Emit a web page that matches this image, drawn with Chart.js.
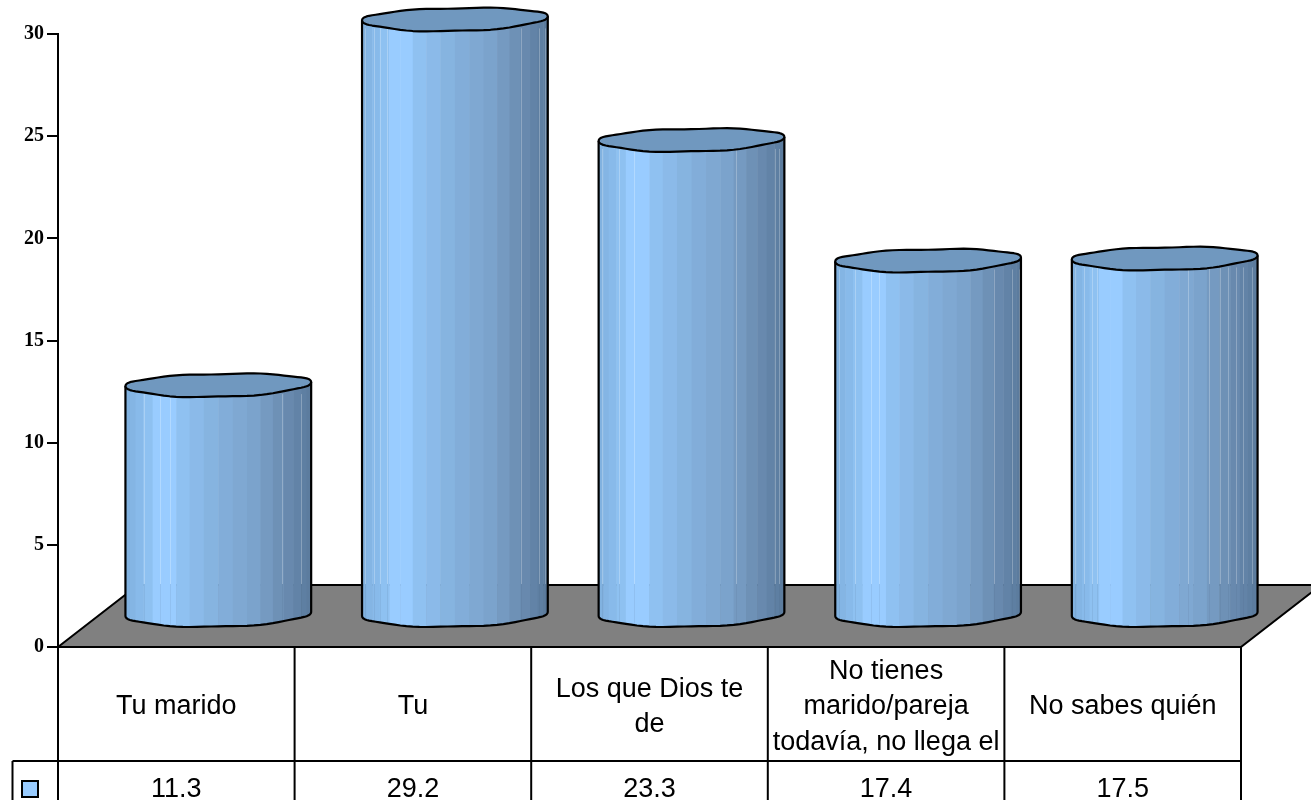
<!DOCTYPE html>
<html>
<head>
<meta charset="utf-8">
<title>Grafica</title>
<script src="https://cdn.jsdelivr.net/npm/chart.js@4"></script>
<style>
  html, body { margin: 0; padding: 0; background: #fff; overflow: hidden; }
  canvas { display: block; }
</style>
</head>
<body>
<canvas id="grafica" width="1311" height="800"></canvas>
<script>
const categorias = [
    ["Tu marido"],
    ["Tu"],
    ["Los que Dios te", "de"],
    ["No tienes", "marido/pareja", "todavía, no llega el"],
    ["No sabes quién"]
];
const valores = [11.3, 29.2, 23.3, 17.4, 17.5];
const yMax = 30;
const yPaso = 5;

// Colores de las franjas del cilindro, de izquierda a derecha
const franjas = [
    [0, [127, 176, 221]], [0.13, [143, 194, 243]], [0.15, [153, 204, 255]],
    [0.24, [153, 204, 255]], [0.3, [144, 194, 242]], [0.5, [132, 176, 220]],
    [0.7, [123, 162, 203]], [0.85, [107, 141, 178]], [1, [90, 122, 156]]
];
// Rayitas claras de cada cilindro, en pixeles desde su borde izquierdo
const brillos = [
    [19, 35, 45, 157, 176],
    [3, 12, 18, 25, 159, 177, 183],
    [3, 20, 35, 137, 176, 180],
    [4, 20, 36, 44, 159, 177, 184],
    [3, 12, 20, 25, 116, 137, 148, 156, 164, 171, 180]
];
const colorBarra = "#99CCFF";
const colorTapa = "#7098BF";
const colorPiso = "#808080";

// Desplazamiento de la perspectiva 3D
const pisoDx = 80, pisoDy = 62;
const cilDx = 42, cilDy = 32;
const radioY = 11.5, sesgo = 2, panza = 1.3, caras = 20;
const filaCategorias = 114;
const grosor = 2.2;

function colorEn(f) {
    for (let i = 1; i < franjas.length; i++) {
        if (f <= franjas[i][0]) {
            const a = franjas[i - 1], b = franjas[i];
            const t = (f - a[0]) / (b[0] - a[0]);
            const c = a[1].map((v, k) => Math.round(v + (b[1][k] - v) * t));
            return `rgb(${c[0]},${c[1]},${c[2]})`;
        }
    }
    return "rgb(90,122,156)";
}

function puntoAro(cx, cy, rx, t) {
    // el aro original es un poligono algo irregular
    const s = Math.sin(t);
    return [
        cx + rx * Math.cos(t),
        cy + radioY * s - sesgo * Math.cos(t) + panza * s * s + 0.5 * Math.sin(7 * t)
    ];
}

function dibujarCilindro(ctx, el, indice, yPiso) {
    const rx = el.width / 2;
    const cx = el.x + cilDx;
    const arriba = el.y - cilDy;
    const abajo = el.base - cilDy;

    // cuerpo por franjas
    for (let k = 0; k < caras; k++) {
        const t0 = Math.PI - Math.PI * k / caras;
        const t1 = Math.PI - Math.PI * (k + 1) / caras;
        const a = puntoAro(cx, arriba, rx, t0), b = puntoAro(cx, arriba, rx, t1);
        const c = puntoAro(cx, abajo, rx, t1), d = puntoAro(cx, abajo, rx, t0);
        ctx.fillStyle = colorEn(((a[0] + b[0]) / 2 - (cx - rx)) / (2 * rx));
        ctx.beginPath();
        ctx.moveTo(a[0], a[1]);
        ctx.lineTo(b[0] + 0.5, b[1]);
        ctx.lineTo(c[0] + 0.5, c[1]);
        ctx.lineTo(d[0], d[1]);
        ctx.closePath();
        ctx.fill();
    }

    // rayitas claras, mas apagadas por debajo del fondo del piso
    ctx.lineWidth = 1;
    brillos[indice].forEach(dx => {
        const x = Math.round(cx - rx + dx) + 0.5;
        const t = Math.acos((x - cx) / rx);
        ctx.strokeStyle = "rgba(255,255,255,0.25)";
        ctx.beginPath();
        ctx.moveTo(x, arriba + 10);
        ctx.lineTo(x, yPiso - 1);
        ctx.stroke();
        ctx.strokeStyle = "rgba(70,90,120,0.1)";
        ctx.beginPath();
        ctx.moveTo(x, yPiso - 1);
        ctx.lineTo(x, puntoAro(cx, abajo, rx, t)[1]);
        ctx.stroke();
    });

    // contorno del cuerpo
    ctx.strokeStyle = "#000";
    ctx.lineWidth = grosor;
    ctx.lineJoin = "round";
    ctx.beginPath();
    const inicio = puntoAro(cx, arriba, rx, Math.PI);
    ctx.moveTo(inicio[0], inicio[1]);
    for (let k = 0; k <= caras * 2; k++) {
        const p = puntoAro(cx, abajo, rx, Math.PI - Math.PI * k / (caras * 2));
        ctx.lineTo(p[0], p[1]);
    }
    const fin = puntoAro(cx, arriba, rx, 0);
    ctx.lineTo(fin[0], fin[1]);
    ctx.stroke();

    // tapa
    ctx.fillStyle = colorTapa;
    ctx.beginPath();
    for (let k = 0; k < caras * 4; k++) {
        const p = puntoAro(cx, arriba, rx, Math.PI * 2 * k / (caras * 4));
        if (k === 0) ctx.moveTo(p[0], p[1]); else ctx.lineTo(p[0], p[1]);
    }
    ctx.closePath();
    ctx.fill();
    ctx.stroke();
}

const pluginCilindros = {
    id: "cilindros",
    beforeDatasetsDraw(chart) {
        const { ctx, chartArea } = chart;
        const y0 = chart.scales.y.getPixelForValue(0);
        ctx.save();
        ctx.fillStyle = colorPiso;
        ctx.strokeStyle = "#000";
        ctx.lineWidth = 2;
        ctx.beginPath();
        ctx.moveTo(chartArea.left, y0);
        ctx.lineTo(chartArea.left + pisoDx, y0 - pisoDy);
        ctx.lineTo(chartArea.right + pisoDx, y0 - pisoDy);
        ctx.lineTo(chartArea.right, y0);
        ctx.closePath();
        ctx.fill();
        ctx.stroke();
        ctx.restore();
    },
    beforeDatasetDraw(chart, args) {
        const ctx = chart.ctx;
        const yPiso = chart.scales.y.getPixelForValue(0) - pisoDy;
        ctx.save();
        args.meta.data.forEach((el, i) => dibujarCilindro(ctx, el, i, yPiso));
        ctx.restore();
        return false;
    }
};

const pluginTabla = {
    id: "tabla",
    afterDraw(chart) {
        const { ctx, chartArea, scales } = chart;
        const ancho = chartArea.width / categorias.length;
        const yCat = chartArea.bottom;
        const yVal = yCat + filaCategorias;
        const yFin = chart.height;
        ctx.save();
        ctx.strokeStyle = "#000";
        ctx.lineWidth = 2;
        ctx.beginPath();
        ctx.moveTo(chartArea.left, yCat);
        ctx.lineTo(chartArea.right, yCat);
        ctx.moveTo(12.5, yVal);
        ctx.lineTo(chartArea.right, yVal);
        ctx.moveTo(12.5, yVal);
        ctx.lineTo(12.5, yFin);
        for (let i = 0; i <= categorias.length; i++) {
            const x = chartArea.left + ancho * i;
            ctx.moveTo(x, yCat);
            ctx.lineTo(x, yFin);
        }
        ctx.stroke();

        // cuadro de la leyenda
        ctx.fillStyle = colorBarra;
        ctx.fillRect(22, 781, 16, 16);
        ctx.strokeRect(22, 781, 16, 16);

        ctx.fillStyle = "#000";
        ctx.font = '27px "Liberation Sans"';
        ctx.textAlign = "center";
        ctx.textBaseline = "middle";
        categorias.forEach((lineas, i) => {
            const x = scales.x.getPixelForValue(i);
            const y = yCat + filaCategorias / 2 + 3 - (lineas.length - 1) * 35.5 / 2;
            lineas.forEach((l, j) => ctx.fillText(l, x, y + j * 35.5));
            ctx.fillText(valores[i].toFixed(1), x, yVal + 29);
        });
        ctx.restore();
    }
};

new Chart(document.querySelector("#grafica"), {
    type: "bar",
    data: {
        labels: categorias,
        datasets: [{
            data: valores,
            backgroundColor: colorBarra,
            borderColor: "#000",
            borderWidth: 2,
            categoryPercentage: 1,
            barPercentage: 0.785
        }]
    },
    options: {
        responsive: false,
        animation: false,
        layout: { padding: { left: 0, right: 70, top: 34, bottom: 153 } },
        plugins: { legend: { display: false }, tooltip: { enabled: false } },
        scales: {
            x: {
                display: false,
                afterFit(scale) { scale.height = 0; }
            },
            y: {
                min: 0,
                max: yMax,
                afterFit(scale) { scale.width = 58; },
                ticks: {
                    stepSize: yPaso,
                    color: "#000",
                    padding: 3,
                    font: { family: '"Liberation Serif"', size: 20, weight: "bold" }
                },
                grid: { drawOnChartArea: false, color: "#000", lineWidth: 2, tickLength: 11 },
                border: { color: "#000", width: 2 }
            }
        }
    },
    plugins: [pluginCilindros, pluginTabla]
});
</script>
</body>
</html>
